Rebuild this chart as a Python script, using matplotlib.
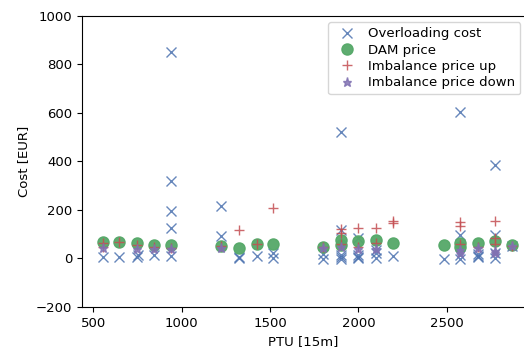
import matplotlib
matplotlib.use('Agg')
import matplotlib.pyplot as plt

# Overloading cost
over_x = [553, 647, 745, 752, 845, 940, 940, 940, 940, 940, 1224, 1224, 1323, 1323, 1426,
          1515, 1515, 1802, 1802, 1900, 1900, 1900, 1900, 1900, 2000, 2000, 2000, 2000,
          2100, 2100, 2100, 2198, 2485, 2575, 2575, 2575, 2575, 2676, 2676, 2676,
          2773, 2773, 2773, 2773, 2868]
over_y = [5, 4, 8, 15, 14, 853, 319, 196, 124, 10, 218, 93, 1, 8, 10,
          21, 1, 18, -3, 523, 116, 16, -1, 5, 83, 14, 7, 1,
          35, 21, 2, 10, -3, 605, 97, 14, -3, 18, 4, 10,
          385, 97, 21, 1, 51]

# DAM price
dam_x = [553, 647, 749, 845, 940, 1224, 1323, 1426, 1515, 1802, 1900, 1900, 2000,
         2100, 2198, 2485, 2575, 2575, 2676, 2773, 2868]
dam_y = [67, 67, 63, 56, 56, 53, 45, 58, 60, 46, 76, 56, 73,
         76, 65, 56, 49, 63, 63, 73, 56]

# Imbalance price up
up_x = [553, 553, 647, 749, 845, 940, 1224, 1323, 1426, 1515, 1802, 1900, 1900, 1900,
        2000, 2000, 2100, 2100, 2198, 2198, 2575, 2575, 2575, 2676, 2773, 2773, 2773, 2868]
up_y = [49, 62, 67, 55, 49, 45, 52, 117, 60, 210, 46, 120, 104, 58,
        124, 49, 127, 63, 156, 148, 152, 134, 60, 49, 155, 83, 60, 51]

# Imbalance price down
down_x = [553, 749, 845, 940, 1224, 1802, 1900, 2000, 2100, 2575, 2575, 2676, 2773, 2773, 2868]
down_y = [45, 37, 40, 39, 43, 44, 46, 40, 40, 35, 22, 45, 21, 30, 50]

fig = plt.figure(figsize=(5.24, 3.48), dpi=100)
# the original picture is cropped on the right, so the axes run to the edge
ax = fig.add_axes([0.1565, 0.118, 0.8435, 0.836])
ax.spines['right'].set_visible(False)

ax.plot(over_x, over_y, 'x', color='#4C72B0', markersize=6.5, alpha=0.85, label='Overloading cost')
ax.plot(dam_x, dam_y, 'o', color='#55A868', markersize=8, alpha=0.95, label='DAM price')
ax.plot(up_x, up_y, '+', color='#C44E52', markersize=6.5, alpha=0.85, label='Imbalance price up')
ax.plot(down_x, down_y, '*', color='#8172B2', markersize=6.5, alpha=0.85, label='Imbalance price down')

ax.set_xlim(436, 2937)
ax.set_ylim(-200, 1000)
ax.set_xticks([500, 1000, 1500, 2000, 2500])
ax.tick_params(labelsize=9.5)
ax.set_xlabel('PTU [15m]', fontsize=9.5)
ax.set_ylabel('Cost [EUR]', fontsize=9.5)
ax.legend(loc='upper right', bbox_to_anchor=(1.005, 1.0), borderaxespad=0.45,
          fontsize=9.5, handletextpad=0.6, borderpad=0.4, labelspacing=0.25)

fig.savefig('out.png', dpi=100)
